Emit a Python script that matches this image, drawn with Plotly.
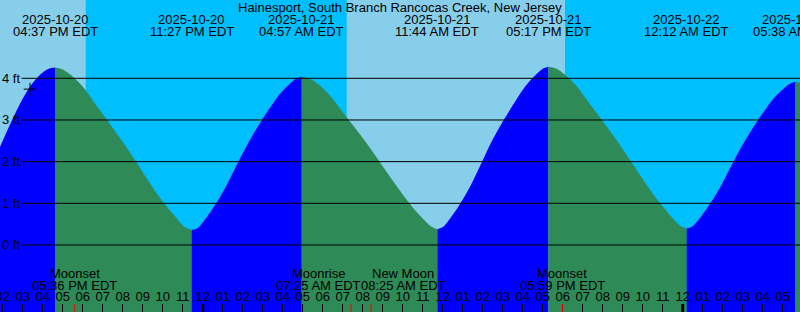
import plotly.graph_objects as go
import pandas as pd

# ---------------- data ----------------
station = "Hainesport, South Branch Rancocas Creek, New Jersey"

# water level readings (ft) taken along the drawn curve
tide_times = [
    "2025-10-20 13:50", "2025-10-20 14:30", "2025-10-20 15:00", "2025-10-20 15:30",
    "2025-10-20 16:00", "2025-10-20 16:18",
    "2025-10-20 16:58", "2025-10-20 17:18", "2025-10-20 17:59", "2025-10-20 18:40",
    "2025-10-20 19:21", "2025-10-20 20:02", "2025-10-20 20:43", "2025-10-20 21:24",
    "2025-10-20 22:05", "2025-10-20 22:26", "2025-10-20 22:46", "2025-10-20 23:06",
    "2025-10-20 23:44", "2025-10-21 00:00", "2025-10-21 00:33", "2025-10-21 01:06",
    "2025-10-21 01:39", "2025-10-21 02:12", "2025-10-21 02:45", "2025-10-21 03:18",
    "2025-10-21 03:51", "2025-10-21 04:24", "2025-10-21 04:40",
    "2025-10-21 05:17", "2025-10-21 05:38", "2025-10-21 06:18", "2025-10-21 06:59",
    "2025-10-21 07:40", "2025-10-21 08:21", "2025-10-21 09:01", "2025-10-21 09:42",
    "2025-10-21 10:23", "2025-10-21 10:43", "2025-10-21 11:03", "2025-10-21 11:24",
    "2025-10-21 12:01", "2025-10-21 12:17", "2025-10-21 12:51", "2025-10-21 13:24",
    "2025-10-21 13:57", "2025-10-21 14:30", "2025-10-21 15:04", "2025-10-21 15:37",
    "2025-10-21 16:10", "2025-10-21 16:44", "2025-10-21 17:00",
    "2025-10-21 17:38", "2025-10-21 17:58", "2025-10-21 18:40", "2025-10-21 19:21",
    "2025-10-21 20:03", "2025-10-21 20:45", "2025-10-21 21:26", "2025-10-21 22:08",
    "2025-10-21 22:49", "2025-10-21 23:10", "2025-10-21 23:30", "2025-10-21 23:51",
    "2025-10-22 00:28", "2025-10-22 00:45", "2025-10-22 01:17", "2025-10-22 01:50",
    "2025-10-22 02:22", "2025-10-22 02:55", "2025-10-22 03:28", "2025-10-22 04:00",
    "2025-10-22 04:33", "2025-10-22 05:05", "2025-10-22 05:22",
    "2025-10-22 05:55",
]
tide_ft = [
    2.32, 3.03, 3.51, 3.89,
    4.14, 4.23,
    4.22, 4.12, 3.81, 3.36,
    2.91, 2.45, 1.96, 1.45,
    0.99, 0.79, 0.60, 0.43,
    0.40, 0.54, 0.91, 1.35,
    1.87, 2.38, 2.84, 3.25,
    3.62, 3.89, 3.99,
    4.00, 3.91, 3.62, 3.20,
    2.78, 2.34, 1.88, 1.41,
    0.97, 0.78, 0.61, 0.45,
    0.43, 0.58, 0.97, 1.43,
    1.98, 2.53, 3.01, 3.44,
    3.83, 4.12, 4.23,
    4.24, 4.14, 3.83, 3.39,
    2.94, 2.48, 1.99, 1.49,
    1.03, 0.83, 0.64, 0.47,
    0.44, 0.58, 0.93, 1.35,
    1.84, 2.34, 2.78, 3.16,
    3.52, 3.77, 3.87,
    3.89,
]

# high / low tide predictions
hilo_times = ["2025-10-20 16:37", "2025-10-20 23:27", "2025-10-21 04:57",
              "2025-10-21 11:44", "2025-10-21 17:17", "2025-10-22 00:12",
              "2025-10-22 05:38"]
hilo_ft = [4.26, 0.36, 4.04, 0.38, 4.28, 0.40, 3.92]

# moon events
moon_times = ["2025-10-20 17:36", "2025-10-21 07:25", "2025-10-21 08:25", "2025-10-21 17:59"]
moon_events = ["Moonset", "Moonrise", "New Moon", "Moonset"]
moon_label_shift = [0, -33, 32, 0]   # px, labels pushed apart so they do not collide

# daylight
sunrise_times = ["2025-10-20 07:11", "2025-10-21 07:12"]
sunset_times = ["2025-10-20 18:09", "2025-10-21 18:07"]

# current time marker
now_time = "2025-10-20 15:22"
now_ft = 3.74

ft_levels = [0, 1, 2, 3, 4]
ft_labels = ["0 ft", "1 ft", "2 ft", "3 ft", "4 ft"]

x_range = ["2025-10-20 13:51:54", "2025-10-22 05:51:54"]
y_range = [-1.608, 5.879]

# ---------------- styling ----------------
FONT = "Liberation Sans"
FS = 13
NIGHT = "#00BFFF"
DAY = "#87CEEB"
EBB = "#2E8B57"
FLOOD = "#0000FF"
H = 312

# ---------------- build ----------------
pts = sorted([(pd.Timestamp(t), v) for t, v in zip(tide_times, tide_ft)] +
             [(pd.Timestamp(t), v) for t, v in zip(hilo_times, hilo_ft)])
bounds = set(pd.Timestamp(t) for t in hilo_times)

segments = []
cur = [pts[0]]
for p in pts[1:]:
    cur.append(p)
    if p[0] in bounds:
        segments.append(cur)
        cur = [p]
if len(cur) > 1:
    segments.append(cur)

fig = go.Figure()
for seg in segments:
    xs = [p[0] for p in seg]
    ys = [p[1] for p in seg]
    color = FLOOD if ys[-1] > ys[0] else EBB
    fig.add_trace(go.Scatter(x=[xs[0], xs[-1]], y=[y_range[0] - 1, y_range[0] - 1],
                             mode="lines", line=dict(width=0, color=color),
                             showlegend=False, hoverinfo="skip"))
    fig.add_trace(go.Scatter(x=xs, y=ys, mode="lines",
                             line=dict(width=0, color=color, shape="spline", smoothing=1),
                             fill="tonexty", fillcolor=color,
                             showlegend=False, hoverinfo="skip"))

fig.add_trace(go.Scatter(x=[now_time], y=[now_ft], mode="markers",
                         marker=dict(symbol="cross-thin", size=9,
                                     line=dict(width=1, color="black")),
                         showlegend=False, hoverinfo="skip"))

shapes = []
for sr, ss in zip(sunrise_times, sunset_times):
    shapes.append(dict(type="rect", xref="x", yref="paper", x0=sr, x1=ss, y0=0, y1=1,
                       fillcolor=DAY, line=dict(width=0), layer="below"))
for lv in ft_levels:
    shapes.append(dict(type="line", xref="paper", yref="y", x0=21.5 / 800, x1=1,
                       y0=lv, y1=lv, line=dict(color="black", width=1), layer="above"))
for d in ["2025-10-21 00:00", "2025-10-22 00:00"]:
    shapes.append(dict(type="line", xref="x", yref="paper", x0=d, x1=d, y0=0, y1=8 / H,
                       line=dict(color="black", width=3), layer="above"))
for t in moon_times:
    shapes.append(dict(type="line", xref="x", yref="paper", x0=t, x1=t, y0=0, y1=8 / H,
                       line=dict(color="red", width=1), layer="above"))

ann = []
font = dict(family=FONT, size=FS, color="black")
ann.append(dict(text=station, xref="paper", yref="paper", x=0.5, y=1 - 7.5 / H,
                xanchor="center", yanchor="middle", showarrow=False, font=font))
for t in hilo_times:
    ts = pd.Timestamp(t)
    ann.append(dict(text=ts.strftime("%Y-%m-%d"), xref="x", yref="paper", x=t,
                    y=1 - 19.5 / H, xanchor="center", yanchor="middle",
                    showarrow=False, font=font))
    ann.append(dict(text=ts.strftime("%I:%M %p EDT"), xref="x", yref="paper", x=t,
                    y=1 - 31.5 / H, xanchor="center", yanchor="middle",
                    showarrow=False, font=font))
for t, name, sh in zip(moon_times, moon_events, moon_label_shift):
    ts = pd.Timestamp(t)
    ann.append(dict(text=name, xref="x", yref="paper", x=t, y=1 - 273.5 / H,
                    xanchor="center", yanchor="middle", showarrow=False, font=font,
                    xshift=sh))
    ann.append(dict(text=ts.strftime("%I:%M %p EDT"), xref="x", yref="paper", x=t,
                    y=1 - 285.5 / H, xanchor="center", yanchor="middle",
                    showarrow=False, font=font, xshift=sh))
for lv, lab in zip(ft_levels, ft_labels):
    ann.append(dict(text=lab, xref="paper", yref="y", x=0, y=lv, xshift=0,
                    xanchor="left", yanchor="middle", showarrow=False, font=font))

fig.update_layout(
    width=800, height=H, margin=dict(l=0, r=0, t=0, b=0, pad=0),
    paper_bgcolor=NIGHT, plot_bgcolor=NIGHT,
    shapes=shapes, annotations=ann, showlegend=False,
    xaxis=dict(type="date", range=x_range, showgrid=False, zeroline=False,
               showline=False, ticks="inside", ticklen=8, tickwidth=1,
               tickcolor="black", dtick=3600000, tick0="2025-10-20 00:00",
               tickformat="%I", ticklabelposition="inside",
               ticklabeloverflow="allow", tickfont=font, fixedrange=True,
               automargin=False),
    yaxis=dict(range=y_range, visible=False, fixedrange=True, automargin=False),
)

fig.write_html("out.html")
